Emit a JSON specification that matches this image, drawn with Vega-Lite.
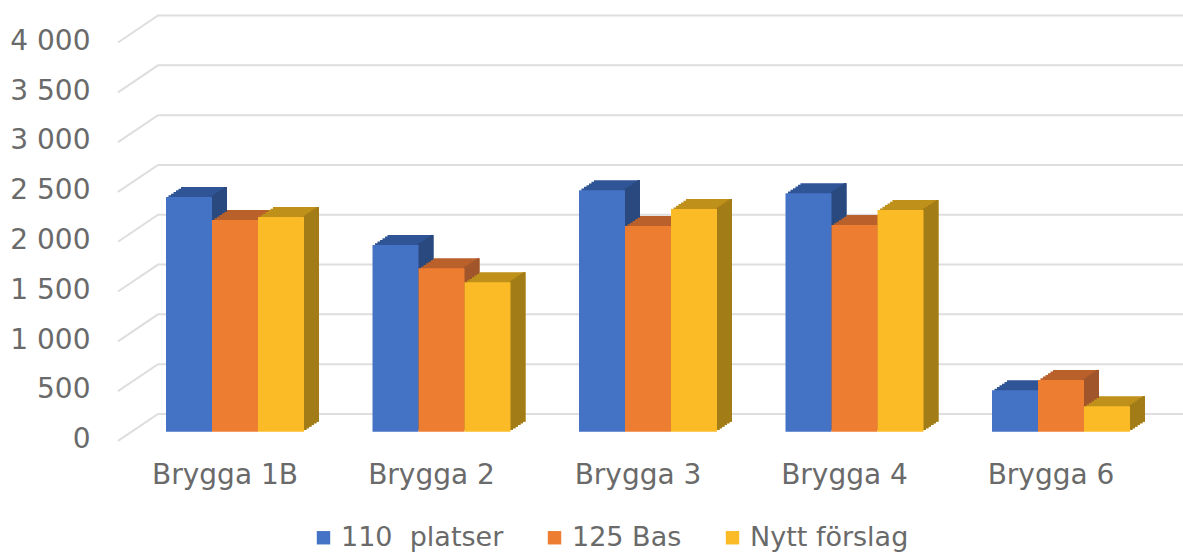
{"$schema":"https://vega.github.io/schema/vega-lite/v6.json","width":1183,"height":553,"padding":0,"autosize":"none","background":"white",
"config":{"view":{"stroke":null},"text":{"font":"DejaVu Sans"}},
"datasets":{
"grid":[
{"t":4000,"d":0,"v":3907},{"t":4000,"d":1,"v":4178},{"t":4000,"d":26.625,"v":4178},
{"t":3500,"d":0,"v":3407},{"t":3500,"d":1,"v":3678},{"t":3500,"d":26.625,"v":3678},
{"t":3000,"d":0,"v":2907},{"t":3000,"d":1,"v":3178},{"t":3000,"d":26.625,"v":3178},
{"t":2500,"d":0,"v":2407},{"t":2500,"d":1,"v":2678},{"t":2500,"d":26.625,"v":2678},
{"t":2000,"d":0,"v":1907},{"t":2000,"d":1,"v":2178},{"t":2000,"d":26.625,"v":2178},
{"t":1500,"d":0,"v":1407},{"t":1500,"d":1,"v":1678},{"t":1500,"d":26.625,"v":1678},
{"t":1000,"d":0,"v":907},{"t":1000,"d":1,"v":1178},{"t":1000,"d":26.625,"v":1178},
{"t":500,"d":0,"v":407},{"t":500,"d":1,"v":678},{"t":500,"d":26.625,"v":678},
{"t":0,"d":0,"v":-93},{"t":0,"d":1,"v":178},{"t":0,"d":26.625,"v":178}],
"bars":[
{"b":"Brygga 1B","s":"110 \u00a0platser","v":2356},{"b":"Brygga 1B","s":"125 Bas","v":2125},{"b":"Brygga 1B","s":"Nytt förslag","v":2155},
{"b":"Brygga 2","s":"110 \u00a0platser","v":1875},{"b":"Brygga 2","s":"125 Bas","v":1640},{"b":"Brygga 2","s":"Nytt förslag","v":1500},
{"b":"Brygga 3","s":"110 \u00a0platser","v":2425},{"b":"Brygga 3","s":"125 Bas","v":2065},{"b":"Brygga 3","s":"Nytt förslag","v":2235},
{"b":"Brygga 4","s":"110 \u00a0platser","v":2395},{"b":"Brygga 4","s":"125 Bas","v":2075},{"b":"Brygga 4","s":"Nytt förslag","v":2225},
{"b":"Brygga 6","s":"110 \u00a0platser","v":415},{"b":"Brygga 6","s":"125 Bas","v":520},{"b":"Brygga 6","s":"Nytt förslag","v":255}]},
"resolve":{"scale":{"x":"independent"}},
"layer":[
{"data":{"name":"grid"},"mark":{"type":"line","color":"#dedede","strokeWidth":2},
"encoding":{"x":{"field":"d","type":"quantitative","scale":{"domain":[-2.95,26.625],"range":[0,1183],"nice":false,"zero":false},"axis":null},
"y":{"field":"v","type":"quantitative","title":null,"scale":{"domain":[-1218,4334],"range":[553,0],"nice":false,"zero":false},"axis":{"orient":"left","offset":-90,"values":[0,500,1000,1500,2000,2500,3000,3500,4000],"labelExpr":"replace(format(datum.value,','),',',' ')","labelPadding":0,"labelOffset":8,"ticks":false,"domain":false,"grid":false,"labelFont":"DejaVu Sans","labelFontSize":28,"labelColor":"#6a6a6a"}},"detail":{"field":"t"},"order":{"field":"d"}}},
{"data":{"name":"bars"},
"encoding":{
"x":{"field":"b","type":"nominal","title":null,"scale":{"range":[131.75,1164.25],"paddingInner":0.332,"paddingOuter":0.166},"axis":{"orient":"bottom","offset":-92,"labelPadding":0,"ticks":false,"domain":false,"grid":false,"labelAngle":0,"labelOffset":-10,"labelFont":"DejaVu Sans","labelFontSize":28,"labelColor":"#6a6a6a","labelBaseline":"top"}},
"y":{"field":"v","type":"quantitative","stack":null,"title":null,"scale":{"domain":[-1218,4334],"range":[553,0],"nice":false,"zero":false}},
"y2":{"datum":0}},
"layer":[
{"transform":[{"filter":"datum.s=='110 \u00a0platser'"}],"layer":[
{"mark":{"type":"bar","width":46,"color":"#2f5597","xOffset":-43.5,"yOffset":-1.67,"y2Offset":-1.67}},
{"mark":{"type":"bar","width":46,"color":"#2f5597","xOffset":-41,"yOffset":-3.33,"y2Offset":-3.33}},
{"mark":{"type":"bar","width":46,"color":"#2f5597","xOffset":-38.5,"yOffset":-5,"y2Offset":-5}},
{"mark":{"type":"bar","width":46,"color":"#2f5597","xOffset":-36,"yOffset":-6.67,"y2Offset":-6.67}},
{"mark":{"type":"bar","width":46,"color":"#2f5597","xOffset":-33.5,"yOffset":-8.33,"y2Offset":-8.33}},
{"mark":{"type":"bar","width":46,"color":"#2f5597","xOffset":-31,"yOffset":-10,"y2Offset":-10}},
{"mark":{"type":"bar","color":"#29497f","width":3,"xOffset":-22,"yOffset":-1.67,"y2Offset":-1.67}},
{"mark":{"type":"bar","color":"#29497f","width":3,"xOffset":-19.5,"yOffset":-3.33,"y2Offset":-3.33}},
{"mark":{"type":"bar","color":"#29497f","width":3,"xOffset":-17,"yOffset":-5,"y2Offset":-5}},
{"mark":{"type":"bar","color":"#29497f","width":3,"xOffset":-14.5,"yOffset":-6.67,"y2Offset":-6.67}},
{"mark":{"type":"bar","color":"#29497f","width":3,"xOffset":-12,"yOffset":-8.33,"y2Offset":-8.33}},
{"mark":{"type":"bar","color":"#29497f","width":3,"xOffset":-9.5,"yOffset":-10,"y2Offset":-10}},
{"mark":{"type":"bar","width":46,"xOffset":-46},"encoding":{"color":{"field":"s","type":"nominal"}}}]},
{"transform":[{"filter":"datum.s=='125 Bas'"}],"layer":[
{"mark":{"type":"bar","width":46,"color":"#b9602b","xOffset":2.5,"yOffset":-1.67,"y2Offset":-1.67}},
{"mark":{"type":"bar","width":46,"color":"#b9602b","xOffset":5,"yOffset":-3.33,"y2Offset":-3.33}},
{"mark":{"type":"bar","width":46,"color":"#b9602b","xOffset":7.5,"yOffset":-5,"y2Offset":-5}},
{"mark":{"type":"bar","width":46,"color":"#b9602b","xOffset":10,"yOffset":-6.67,"y2Offset":-6.67}},
{"mark":{"type":"bar","width":46,"color":"#b9602b","xOffset":12.5,"yOffset":-8.33,"y2Offset":-8.33}},
{"mark":{"type":"bar","width":46,"color":"#b9602b","xOffset":15,"yOffset":-10,"y2Offset":-10}},
{"mark":{"type":"bar","color":"#a0562a","width":3,"xOffset":24,"yOffset":-1.67,"y2Offset":-1.67}},
{"mark":{"type":"bar","color":"#a0562a","width":3,"xOffset":26.5,"yOffset":-3.33,"y2Offset":-3.33}},
{"mark":{"type":"bar","color":"#a0562a","width":3,"xOffset":29,"yOffset":-5,"y2Offset":-5}},
{"mark":{"type":"bar","color":"#a0562a","width":3,"xOffset":31.5,"yOffset":-6.67,"y2Offset":-6.67}},
{"mark":{"type":"bar","color":"#a0562a","width":3,"xOffset":34,"yOffset":-8.33,"y2Offset":-8.33}},
{"mark":{"type":"bar","color":"#a0562a","width":3,"xOffset":36.5,"yOffset":-10,"y2Offset":-10}},
{"mark":{"type":"bar","width":46},"encoding":{"color":{"field":"s","type":"nominal"}}}]},
{"transform":[{"filter":"datum.s=='Nytt förslag'"}],"layer":[
{"mark":{"type":"bar","width":46,"color":"#bf901a","xOffset":48.5,"yOffset":-1.67,"y2Offset":-1.67}},
{"mark":{"type":"bar","width":46,"color":"#bf901a","xOffset":51,"yOffset":-3.33,"y2Offset":-3.33}},
{"mark":{"type":"bar","width":46,"color":"#bf901a","xOffset":53.5,"yOffset":-5,"y2Offset":-5}},
{"mark":{"type":"bar","width":46,"color":"#bf901a","xOffset":56,"yOffset":-6.67,"y2Offset":-6.67}},
{"mark":{"type":"bar","width":46,"color":"#bf901a","xOffset":58.5,"yOffset":-8.33,"y2Offset":-8.33}},
{"mark":{"type":"bar","width":46,"color":"#bf901a","xOffset":61,"yOffset":-10,"y2Offset":-10}},
{"mark":{"type":"bar","color":"#a27c16","width":3,"xOffset":70,"yOffset":-1.67,"y2Offset":-1.67}},
{"mark":{"type":"bar","color":"#a27c16","width":3,"xOffset":72.5,"yOffset":-3.33,"y2Offset":-3.33}},
{"mark":{"type":"bar","color":"#a27c16","width":3,"xOffset":75,"yOffset":-5,"y2Offset":-5}},
{"mark":{"type":"bar","color":"#a27c16","width":3,"xOffset":77.5,"yOffset":-6.67,"y2Offset":-6.67}},
{"mark":{"type":"bar","color":"#a27c16","width":3,"xOffset":80,"yOffset":-8.33,"y2Offset":-8.33}},
{"mark":{"type":"bar","color":"#a27c16","width":3,"xOffset":82.5,"yOffset":-10,"y2Offset":-10}},
{"mark":{"type":"bar","width":46,"xOffset":46},"encoding":{"color":{"field":"s","type":"nominal","scale":{"domain":["110 \u00a0platser","125 Bas","Nytt förslag"],"range":["#4472c4","#ed7d31","#fbbb27"]},"legend":{"title":null,"orient":"none","legendX":310,"legendY":524,"direction":"horizontal","columns":3,"symbolType":"square","symbolSize":180,"symbolStrokeWidth":0,"labelFont":"DejaVu Sans","labelFontSize":27,"labelColor":"#6a6a6a","labelOffset":4,"columnPadding":37,"labelLimit":300}}}}]}
]}
]}
